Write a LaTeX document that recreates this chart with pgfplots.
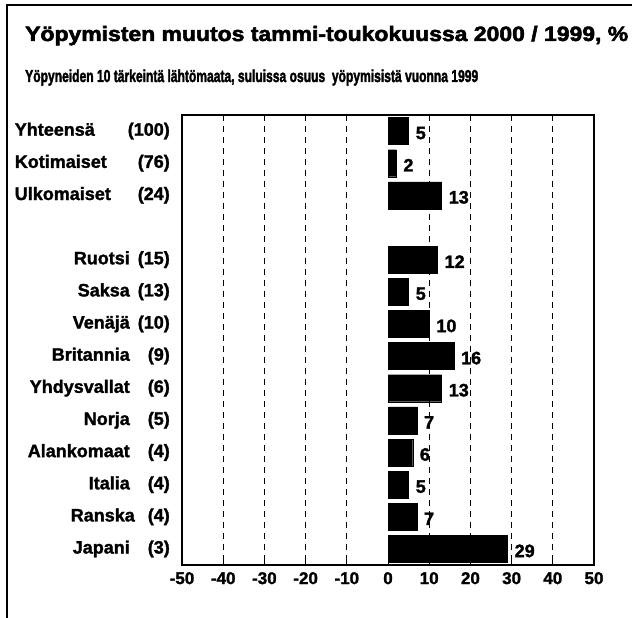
\documentclass[border=0pt]{standalone}
\usepackage{pgfplots}
\pgfplotsset{compat=1.18}
\usepackage{fontspec}
\setmainfont{Liberation Sans}[BoldFeatures={FakeBold=1.6}]
\newfontfamily\titlefont{Liberation Sans}[FakeBold=2.5]
\newcommand\LL[2]{\makebox[115bp][l]{#1}\makebox[40bp][r]{#2}}
\newcommand\RR[2]{\makebox[115bp][r]{#1}\makebox[40bp][r]{#2}}
\newcommand\lblfont{\fontsize{18bp}{21bp}\selectfont\bfseries}
\newcommand\tickfont{\fontsize{17bp}{20bp}\selectfont\bfseries}
\begin{document}
\begin{tikzpicture}[x=1bp,y=1bp]
\useasboundingbox (0,0) rectangle (632,618);
\draw[line width=1.5bp] (7,0) -- (7,613) -- (632,613);
\node[anchor=base west, inner sep=0pt] at (25,577) {\resizebox{603bp}{15bp}{\fontsize{21bp}{24bp}\selectfont\titlefont\bfseries Yöpymisten muutos tammi-toukokuussa 2000 / 1999, \%}};
\node[anchor=base west, inner sep=0pt] at (25,536) {\resizebox{453bp}{12.5bp}{\fontsize{17bp}{20bp}\selectfont\titlefont\bfseries Yöpyneiden 10 tärkeintä lähtömaata, suluissa osuus\ \ yöpymisistä vuonna 1999}};
\begin{axis}[
  at={(182bp,53bp)}, anchor=south west,
  scale only axis, width=412bp, height=450bp,
  xmin=-50, xmax=50, ymin=-0.5, ymax=13.5, y dir=reverse,
  xbar, bar width=27bp, bar shift=0pt,
  axis line style={line width=1.3bp},
  tick pos=left, tick align=inside,
  major tick length=5bp,
  xtick={-50,-40,...,50},
  xtick style={black, line width=1bp},
  ytick={0,1,2,4,5,6,7,8,9,10,11,12,13},
  ytick style={draw=none},
  yticklabels={{\LL{Yhteensä}{(100)}},{\LL{Kotimaiset}{(76)}},{\LL{Ulkomaiset}{(24)}},
    {\RR{Ruotsi}{(15)}},{\RR{Saksa}{(13)}},{\RR{Venäjä}{(10)}},{\RR{Britannia}{(9)}},
    {\RR{Yhdysvallat}{(6)}},{\RR{Norja}{(5)}},{\RR{Alankomaat}{(4)}},{\RR{Italia}{(4)}},
    {\makebox[120bp][r]{Ranska}\makebox[35bp][r]{(4)}},{\RR{Japani}{(3)}}},
  yticklabel style={anchor=east, inner sep=0pt, xshift=-12bp, font=\lblfont},
  xticklabel style={anchor=north, inner sep=0pt, yshift=-7bp, font=\tickfont},
  /pgf/number format/assume math mode=true,
  extra x ticks={-40,-30,-20,-10,10,20,30,40},
  extra x tick labels={},
  extra x tick style={grid=major},
  major grid style={black, line width=1.1bp, dash pattern=on 6bp off 5bp},
  point meta=x,
  nodes near coords,
  nodes near coords align={horizontal},
  every node near coord/.append style={anchor=west, font=\lblfont, inner sep=0pt, xshift=7bp, yshift=-2bp, black},
]
\addplot[fill=black, draw=black] coordinates {
 (5,0) (2,1) (13,2) (12,4) (5,5) (10,6) (16,7) (13,8) (7,9) (6,10) (5,11) (7,12) (29,13)
};
\end{axis}
\end{tikzpicture}
\end{document}
